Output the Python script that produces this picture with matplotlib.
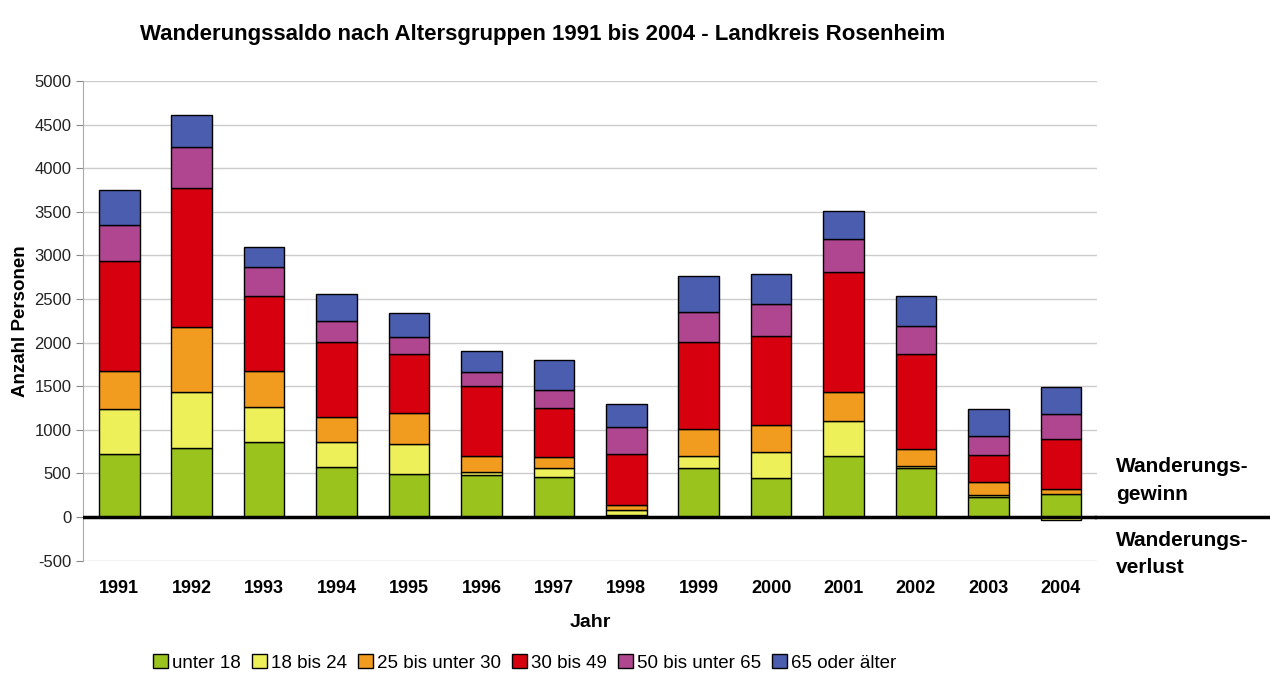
import matplotlib.pyplot as plt
import numpy as np
from matplotlib.lines import Line2D

plt.rcParams['font.family'] = ['Liberation Sans', 'DejaVu Sans']
plt.rcParams['axes.unicode_minus'] = False

# Daten
jahre = ['1991', '1992', '1993', '1994', '1995', '1996', '1997',
         '1998', '1999', '2000', '2001', '2002', '2003', '2004']
gruppen = ['unter 18', '18 bis 24', '25 bis unter 30', '30 bis 49',
           '50 bis unter 65', '65 oder älter']
unter18 = [720, 790, 865, 577, 493, 482, 462, 20, 566, 444, 703, 559, 233, 264]
b18_24 = [520, 640, 395, 287, 341, 38, 96, 60, 134, 305, 398, 26, 19, -35]
b25_30 = [430, 750, 410, 286, 362, 180, 127, 58, 309, 306, 336, 192, 146, 54]
b30_49 = [1270, 1590, 870, 854, 670, 803, 562, 580, 995, 1025, 1377, 1089, 313, 573]
b50_65 = [410, 475, 330, 244, 202, 164, 210, 317, 351, 360, 371, 328, 218, 290]
ab65 = [400, 365, 225, 306, 275, 237, 344, 257, 409, 347, 328, 341, 310, 313]

farben = ['#9AC31E', '#EEF05A', '#F29C1F', '#D6000F', '#B0468F', '#4A5DAE']
serien = [unter18, b18_24, b25_30, b30_49, b50_65, ab65]

fig = plt.figure(figsize=(12.7, 6.73), dpi=100)
ax = fig.add_axes([0.0654, 0.167, 0.7984, 0.7126])

x = np.arange(len(jahre))
pos_bottom = np.zeros(len(jahre))
neg_bottom = np.zeros(len(jahre))
for werte, farbe, name in zip(serien, farben, gruppen):
    w = np.array(werte, dtype=float)
    bottom = np.where(w >= 0, pos_bottom, neg_bottom)
    ax.bar(x, w, 0.56, bottom=bottom, color=farbe, edgecolor='black',
           linewidth=1.0, label=name, zorder=3)
    pos_bottom = pos_bottom + np.where(w >= 0, w, 0)
    neg_bottom = neg_bottom + np.where(w < 0, w, 0)

ax.set_xlim(-0.5, len(jahre) - 0.5)
ax.set_ylim(-500, 5000)
ax.set_yticks(np.arange(-500, 5001, 500))
ax.set_xticks(x)
ax.set_xticklabels(jahre, fontweight='bold', fontsize=13)
ax.tick_params(axis='x', length=0, pad=14)
ax.tick_params(axis='y', labelsize=12, colors='#888888', labelcolor='#222222',
               length=5)
ax.yaxis.grid(True, color='#cccccc', linewidth=1, zorder=0)
for s in ['top', 'right', 'bottom']:
    ax.spines[s].set_visible(False)
ax.spines['left'].set_color('#aaaaaa')

# Nulllinie bis zum rechten Rand
ax.axhline(0, color='black', linewidth=2.5, zorder=4)
fig.add_artist(Line2D([0.863, 1.0], [0.2318, 0.2318], color='black',
                      linewidth=2.5, transform=fig.transFigure))

ax.set_xlabel('Jahr', fontweight='bold', fontsize=14, labelpad=12)
ax.set_ylabel('Anzahl Personen', fontweight='bold', fontsize=13.5, labelpad=4)
fig.text(0.427, 0.948, 'Wanderungssaldo nach Altersgruppen 1991 bis 2004 - Landkreis Rosenheim',
         ha='center', va='center', fontweight='bold', fontsize=16)

fig.text(0.879, 0.286, 'Wanderungs-\ngewinn', fontweight='bold', fontsize=15,
         ha='left', va='center', linespacing=1.55)
fig.text(0.879, 0.177, 'Wanderungs-\nverlust', fontweight='bold', fontsize=15,
         ha='left', va='center', linespacing=1.55)

fig.legend(loc='center', bbox_to_anchor=(0.413, 0.015), ncol=6, frameon=False,
           fontsize=13.5, handlelength=0.8, handleheight=0.8, handletextpad=0.2,
           columnspacing=0.6, borderaxespad=0)

plt.savefig('out.png')
